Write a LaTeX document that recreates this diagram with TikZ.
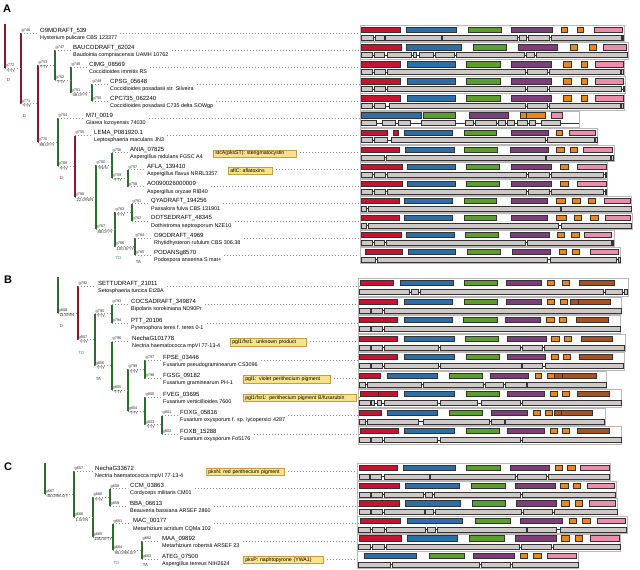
\documentclass[tikz,border=0pt]{standalone}
\usepackage{fontspec}
\setmainfont{Liberation Sans}
\usetikzlibrary{calc}
\definecolor{kred}{RGB}{200,18,48}
\definecolor{kblue}{RGB}{46,110,166}
\definecolor{kgreen}{RGB}{92,158,46}
\definecolor{kpurple}{RGB}{126,62,122}
\definecolor{korange}{RGB}{234,134,28}
\definecolor{kpink}{RGB}{238,140,172}
\definecolor{kbrown}{RGB}{166,82,36}
\definecolor{kgray}{RGB}{206,201,198}
\definecolor{tred}{RGB}{140,24,40}
\definecolor{tgreen}{RGB}{44,108,44}
\definecolor{annfill}{RGB}{250,226,140}
\definecolor{anndraw}{RGB}{196,158,60}
\definecolor{tdblue}{RGB}{60,120,170}
\definecolor{tanavy}{RGB}{30,40,100}
\tikzset{
 gname/.style={font=\fontsize{6}{6.5}\selectfont, inner sep=0pt},
 sname/.style={font=\fontsize{5.4}{5.8}\selectfont, inner sep=0pt},
 nlab/.style={font=\fontsize{3.9}{4.1}\selectfont, inner sep=0.5pt, text=black!80},
 slab/.style={font=\fontsize{4.3}{4.5}\selectfont, inner sep=0.5pt, text=black!80},
 dtag/.style={font=\fontsize{4.2}{4.4}\selectfont, inner sep=0pt},
 dotsl/.style={draw=black!45, line width=0.75pt, dash pattern=on 0.75pt off 2.25pt},
 rbar/.style={draw=tred, line width=1.5pt},
 gbar/.style={draw=tgreen, line width=1.5pt},
 dombox/.style={draw=black!80, line width=0.45pt},
 genbox/.style={draw=black!80, line width=0.45pt, fill=kgray},
 intron/.style={draw=black!80, line width=0.45pt},
 frm/.style={draw=black!28, line width=0.6pt},
 annbox/.style={draw=anndraw, fill=annfill, line width=0.6pt, font=\fontsize{5.2}{5.5}\selectfont, inner xsep=2pt, inner ysep=0pt, minimum height=7.5pt, align=left},
 plabel/.style={font=\bfseries\fontsize{11}{11}\selectfont, inner sep=0pt},
}
\newcommand\leaf[5]{\coordinate (#1) at (#2,#3);
 \node[gname, anchor=base west] (n#1) at ($(#1)+(0,-1)$) {#4};
 \node[sname, anchor=base west] (s#1) at ($(#1)+(0,6.3)$) {#5};}
\newcommand\tbar[4]{\draw[#1] (#2 |- #3) -- (#2 |- #4);}
\newcommand\lbr[3]{\draw[dotsl] (#1 |- #2) -- ($(#2)+(-2,0)$);
 \node[nlab, anchor=south west] at (#1 |- #2) {#3};}
\newcommand\ibr[4]{\draw[dotsl] (#1 |- #2) -- (#2);
 \node[nlab, anchor=south west] at (#1 |- #2) {#3};
 \node[slab, anchor=north west] at ($(#1 |- #2)+(0.8,0)$) {#4};}
\newcommand\dtagat[5]{\node[dtag, text=#4] at ($(#1 |- #2)+(3.5,#3)$) {#5};}
\newcommand\rowdots[1]{\draw[dotsl] ($(s#1.east |- #1)+(3,0)$) -- (#1 -| rowend);}
\newcommand\annot[6]{\node[annbox, anchor=west, text width=#4pt] (#1) at (#2,#3) {#5};
 \draw[dotsl] ($(#1.east |- #6)+(3,0)$) -- (#6 -| rowend);}
\newcommand\pair[8]{%
 \draw[frm] ({355+#3/3},{#1-4.6}) rectangle ({355+#4/3},{#2+4});
 \foreach \cc/\xa/\xb in {#5}{\draw[dombox,fill=\cc] ({355+\xa/3},{#1-2.7}) rectangle ({355+\xb/3},{#1+2.7});}
 \draw[intron] ({355+#6/3},#2) -- ({355+#7/3},#2);
 \foreach \xa/\xb in {#8}{\draw[genbox] ({355+\xa/3},{#2-2.5}) rectangle ({355+\xb/3},{#2+2.5});}
}
\begin{document}
\begin{tikzpicture}[x=1pt,y=-1pt]
\useasboundingbox (0,0) rectangle (640,570);
\fill[white] (0,0) rectangle (640,570);
\coordinate (rowend) at (359,0);
\node[plabel] (labA) at (7,9) {A};
\node[plabel] (labB) at (8,280) {B};
\node[plabel] (labC) at (8,467) {C};

% ================= PANEL A tree
\coordinate (rAt) at (5,24);
\coordinate (rA) at (5,68.37);
\coordinate (g772) at (21,68.37);
\coordinate (g771) at (38,103.73);
\coordinate (g753) at (55,65.04);
\coordinate (g752) at (71,79.98);
\coordinate (g751) at (92,92.75);
\coordinate (g770) at (58,142.43);
\coordinate (g769) at (75,166.45);
\coordinate (g768) at (96,197.4);
\coordinate (g760) at (112,165.38);
\coordinate (g759) at (128,178.15);
\coordinate (g767) at (115,229.43);
\coordinate (g763) at (132,212.35);
\coordinate (g766) at (135,246.5);
\leaf{g746}{40}{33}{O9MDRAFT\_539}{Hysterium pulicare CBS 123377}
\leaf{g747}{73}{50.1}{BAUCODRAFT\_62024}{Baudoinia compniacensis UAMH 10762}
\leaf{g748}{89}{67.2}{CIMG\_08569}{Coccidioides immitis RS}
\leaf{g749}{110}{84.2}{CPSG\_05648}{Coccidioides posadasii str. Silveira}
\leaf{g750}{110}{101.3}{CPC735\_062240}{Coccidioides posadasii C735 delta SOWgp}
\leaf{g754}{86}{118.4}{M7I\_0019}{Glarea lozoyensis 74030}
\leaf{g755}{94}{135.5}{LEMA\_P081920.1}{Leptosphaeria maculans JN3}
\leaf{g756}{130}{152.6}{ANIA\_07825}{Aspergillus nidulans FGSC A4}
\leaf{g757}{147}{169.6}{AFLA\_139410}{Aspergillus flavus NRRL3357}
\leaf{g758}{147}{186.7}{AO090026000009}{Aspergillus oryzae RIB40}
\leaf{g761}{151}{203.8}{QYADRAFT\_194256}{Passalora fulva CBS 131901}
\leaf{g762}{151}{220.9}{DOTSEDRAFT\_48345}{Dothistroma septosporum NZE10}
\leaf{g764}{154}{238}{O9ODRAFT\_4969}{Rhytidhysteron rufulum CBS 306.38}
\leaf{g765}{154}{255}{PODANSg8570}{Podospora anserina S mat+}
\draw[rbar] (rAt) -- (rA);
\tbar{rbar}{g772}{g746}{g771}
\tbar{rbar}{g771}{g753}{g770}
\tbar{gbar}{g753}{g747}{g752}
\tbar{gbar}{g752}{g748}{g751}
\tbar{gbar}{g751}{g749}{g750}
\tbar{gbar}{g770}{g754}{g769}
\tbar{rbar}{g769}{g755}{g768}
\tbar{gbar}{g768}{g760}{g767}
\tbar{gbar}{g760}{g756}{g759}
\tbar{gbar}{g759}{g757}{g758}
\tbar{gbar}{g767}{g763}{g766}
\tbar{gbar}{g763}{g761}{g762}
\tbar{gbar}{g766}{g764}{g765}
\ibr{rA}{g772}{g772}{*/*/Y}
\lbr{g772}{g746}{g746}
\ibr{g772}{g771}{g771}{*/*/Y}
\ibr{g771}{g753}{g753}{*/*/Y}
\ibr{g771}{g770}{g770}{89.0/*/Y}
\lbr{g753}{g747}{g747}
\ibr{g753}{g752}{g752}{*/*/Y}
\lbr{g752}{g748}{g748}
\ibr{g752}{g751}{g751}{58.0/*/Y}
\lbr{g751}{g749}{g749}
\lbr{g751}{g750}{g750}
\lbr{g770}{g754}{g754}
\ibr{g770}{g769}{g769}{*/*/Y}
\lbr{g769}{g755}{g755}
\ibr{g769}{g768}{g768}{22.0/N/N}
\ibr{g768}{g760}{g760}{*/N/N}
\ibr{g768}{g767}{g767}{88.0/*/Y}
\lbr{g760}{g756}{g756}
\ibr{g760}{g759}{g759}{*/*/Y}
\lbr{g759}{g757}{g757}
\lbr{g759}{g758}{g758}
\ibr{g767}{g763}{g763}{*/*/Y}
\ibr{g767}{g766}{g766}{100.0/*/Y}
\lbr{g763}{g761}{g761}
\lbr{g763}{g762}{g762}
\lbr{g766}{g764}{g764}
\lbr{g766}{g765}{g765}
\dtagat{rA}{g772}{11.5}{tred}{D}
\dtagat{g772}{g771}{12.5}{tred}{D}
\dtagat{g770}{g769}{11.5}{tred}{D}
\dtagat{g767}{g766}{11.5}{tdblue}{TD}
\dtagat{g766}{g765}{7}{tanavy}{TA}
\foreach \lf in {g746,g747,g748,g749,g750,g754,g755,g758,g761,g762,g764,g765}{\rowdots{\lf}}
\annot{annstc}{213}{153.6}{79.4}{stcA(pksST): sterigmatocystin}{g756}
\annot{annafl}{228}{170.6}{40.4}{aflC: aflatoxins}{g757}

% ================= PANEL B tree
\coordinate (rBt) at (58,277);
\coordinate (rB) at (58,312.88);
\coordinate (g808) at (78,312.88);
\coordinate (g807) at (95,339.77);
\coordinate (g795) at (112,313.75);
\coordinate (g806) at (112,365.78);
\coordinate (g805) at (128,390.06);
\coordinate (g799) at (145,369.25);
\coordinate (g804) at (145,410.88);
\coordinate (g803) at (162,424.75);
\leaf{g792}{98}{286}{SETTUDRAFT\_21011}{Setosphaeria turcica Et28A}
\leaf{g793}{131}{304.5}{COCSADRAFT\_349874}{Bipolaris sorokiniana ND90Pr}
\leaf{g794}{131}{323}{PTT\_20106}{Pyrenophora teres f. teres 0-1}
\leaf{g796}{132}{341.5}{NechaG101778}{Nectria haematococca mpVI 77-13-4}
\leaf{g797}{163}{360}{FPSE\_03446}{Fusarium pseudograminearum CS3096}
\leaf{g798}{163}{378.5}{FGSG\_09182}{Fusarium graminearum PH-1}
\leaf{g800}{163}{397}{FVEG\_03695}{Fusarium verticillioides 7600}
\leaf{g801}{180}{415.5}{FOXG\_05816}{Fusarium oxysporum f. sp. lycopersici 4287}
\leaf{g802}{180}{434}{FOXB\_15288}{Fusarium oxysporum Fo5176}
\draw[gbar] (rBt) -- (rB);
\tbar{rbar}{g808}{g792}{g807}
\tbar{gbar}{g807}{g795}{g806}
\tbar{gbar}{g795}{g793}{g794}
\tbar{gbar}{g806}{g796}{g805}
\tbar{gbar}{g805}{g799}{g804}
\tbar{gbar}{g799}{g797}{g798}
\tbar{gbar}{g804}{g800}{g803}
\tbar{gbar}{g803}{g801}{g802}
\ibr{rB}{g808}{g808}{11.0/I/N}
\lbr{g808}{g792}{g792}
\ibr{g808}{g807}{g807}{*/*/Y}
\ibr{g807}{g795}{g795}{*/*/Y}
\ibr{g807}{g806}{g806}{*/*/Y}
\lbr{g795}{g793}{g793}
\lbr{g795}{g794}{g794}
\lbr{g806}{g796}{g796}
\ibr{g806}{g805}{g805}{*/*/Y}
\ibr{g805}{g799}{g799}{*/*/Y}
\ibr{g805}{g804}{g804}{*/*/Y}
\lbr{g799}{g797}{g797}
\lbr{g799}{g798}{g798}
\lbr{g804}{g800}{g800}
\ibr{g804}{g803}{g803}{*/*/Y}
\lbr{g803}{g801}{g801}
\lbr{g803}{g802}{g802}
\dtagat{rB}{g808}{13}{tred}{D}
\dtagat{g808}{g807}{13.5}{tdblue}{TD}
\dtagat{g807}{g806}{13}{tanavy}{TA}
\foreach \lf in {g792,g793,g794,g797,g801,g802}{\rowdots{\lf}}
\annot{annpu}{230}{342.5}{72.4}{pgl1/fsr1: unknown product}{g796}
\annot{annpv}{243}{379.5}{83.4}{pgl1: violet perithecium pigment}{g798}
\annot{annpf}{243}{398}{109.4}{pgl1/fsr1: perithecium pigment B/fusarubin}{g800}

% ================= PANEL C tree
\coordinate (rCt) at (45,463);
\coordinate (rC) at (45,494.1);
\coordinate (g667) at (74,494.1);
\coordinate (g666) at (93,517.2);
\coordinate (g660) at (110,497.4);
\coordinate (g665) at (113,537);
\coordinate (g664) at (142,550.2);
\leaf{g657}{95}{471}{NechaG33672}{Nectria haematococca mpVI 77-13-4}
\leaf{g658}{130}{488.6}{CCM\_03863}{Cordyceps militaris CM01}
\leaf{g659}{130}{506.2}{BBA\_06613}{Beauveria bassiana ARSEF 2860}
\leaf{g661}{133}{523.8}{MAC\_00177}{Metarhizium acridum CQMa 102}
\leaf{g662}{162}{541.4}{MAA\_09892}{Metarhizium robertsii ARSEF 23}
\leaf{g663}{162}{559}{ATEG\_07500}{Aspergillus terreus NIH2624}
\draw[gbar] (rCt) -- (rC);
\tbar{gbar}{g667}{g657}{g666}
\tbar{gbar}{g666}{g660}{g665}
\tbar{gbar}{g660}{g658}{g659}
\tbar{gbar}{g665}{g661}{g664}
\tbar{gbar}{g664}{g662}{g663}
\ibr{rC}{g667}{g667}{45.0/98.0/Y}
\lbr{g667}{g657}{g657}
\ibr{g667}{g666}{g666}{1.0/I/N}
\ibr{g666}{g660}{g660}{*/*/Y}
\ibr{g666}{g665}{g665}{100.0/*/Y}
\lbr{g660}{g658}{g658}
\lbr{g660}{g659}{g659}
\lbr{g665}{g661}{g661}
\ibr{g665}{g664}{g664}{95.0/98.0/Y}
\lbr{g664}{g662}{g662}
\lbr{g664}{g663}{g663}
\dtagat{g665}{g664}{12.5}{tdblue}{TD}
\dtagat{g664}{g663}{6.5}{tanavy}{TA}
\foreach \lf in {g658,g659,g661,g662}{\rowdots{\lf}}
\annot{annpn}{206}{472}{74.4}{pksN: red perithecium pigment}{g657}
\annot{annpp}{243}{560}{76.4}{pksP: naphtopyrone (YWA1)}{g663}

% ================= domain / gene structure rows, panel A
\pair{30}{37.7}{17}{808}{kred/20/137,kblue/155/305,kgreen/340/438,kpurple/470/593,korange/620/638,korange/668/686,kpink/717/803}{20}{806}{20/55,60/88,92/258,262/488,494/515,520/582,590/800,803/806}
\pair{47.1}{54.8}{17}{820}{kred/20/140,kblue/155/320,kgreen/355/455,kpurple/490/608,korange/645/668,korange/702/724,kpink/745/815}{20}{818}{20/52,57/88,98/170,175/185,192/235,240/297,303/508,514/538,544/818}
\pair{64.2}{71.9}{17}{808}{kred/20/137,kblue/157/300,kgreen/333/435,kpurple/468/590,korange/625/648,korange/678/698,kpink/720/805}{20}{806}{20/52,58/92,98/510,516/578,583/795,800/806}
\pair{81.2}{88.9}{17}{810}{kred/20/137,kblue/157/300,kgreen/333/435,kpurple/468/590,korange/625/648,korange/678/698,kpink/720/805}{20}{808}{20/52,58/92,98/510,516/578,583/800,804/808}
\pair{98.3}{106}{17}{808}{kred/20/137,kblue/157/300,kgreen/333/435,kpurple/468/590,korange/625/648,korange/678/698,kpink/720/805}{20}{806}{20/52,58/92,103/510,516/578,583/795,800/806}
\pair{115.4}{123.1}{17}{672}{kblue/20/200,kgreen/205/300,kpurple/342/460,korange/495/513,korange/515/570,kpink/590/622}{20}{672}{20/65,82/122,130/165,198/300,330/355,362/425,430/450,458/478,488/518,524/542,558/615}
\pair{132.5}{140.2}{17}{728}{kred/20/98,kred/115/130,kblue/148/293,kgreen/328/425,kpurple/468/580,korange/605/622,kpink/643/722}{20}{727}{20/52,58/98,110/570,577/718,722/727}
\pair{149.6}{157.3}{17}{778}{kred/20/133,kblue/150/297,kgreen/328/428,kpurple/466/580,korange/604/627,korange/646/667,kpink/686/773}{20}{776}{20/88,94/570,575/765,770/776}
\pair{166.6}{174.3}{17}{757}{kred/20/142,kblue/158/302,kgreen/333/433,kpurple/470/590,korange/617/640,kpink/668/753}{20}{755}{20/52,58/92,98/513,520/582,588/745,750/755}
\pair{183.7}{191.4}{17}{757}{kred/20/142,kblue/158/302,kgreen/333/433,kpurple/470/590,korange/617/640,kpink/668/753}{20}{755}{20/52,58/92,98/513,520/582,588/745,750/755}
\pair{200.8}{208.5}{17}{828}{kred/20/132,kblue/148/293,kgreen/327/425,kpurple/468/577,korange/604/632,korange/653/675,korange/700/722,kpink/748/825}{20}{828}{20/35,40/615,620/828}
\pair{217.9}{225.6}{17}{832}{kred/20/133,kblue/148/293,kgreen/327/425,kpurple/468/577,korange/604/633,korange/658/680,korange/707/730,kpink/750/825}{20}{830}{20/35,40/610,618/830}
\pair{235}{242.7}{17}{777}{kred/20/138,kblue/155/297,kgreen/330/430,kpurple/466/583,korange/606/627,korange/648/672,kpink/688/770}{20}{776}{20/52,57/88,95/510,516/768,771/776}
\pair{252}{259.7}{17}{797}{kred/30/143,kblue/160/302,kgreen/337/437,kpurple/473/587,korange/612/635,korange/652/673,kpink/705/790}{20}{795}{20/62,68/578,585/785,790/795}

% ================= panel B rows
\pair{283}{292}{10}{820}{kred/15/115,kblue/135/295,kgreen/328/428,kpurple/453/558,korange/577/598,korange/622/642,kbrown/672/778}{12}{818}{12/163,170/190,197/745,752/803,808/818}
\pair{301.5}{310.5}{10}{800}{kred/12/128,kblue/148/293,kgreen/328/428,kpurple/453/560,korange/577/597,korange/615/637,kbrown/647/670,kbrown/670/765}{12}{800}{12/45,50/82,88/800}
\pair{320}{329}{10}{795}{kred/12/128,kblue/147/293,kgreen/326/426,kpurple/452/557,korange/573/597,korange/612/635,kbrown/663/760}{12}{795}{12/45,50/82,88/795}
\pair{338.5}{347.5}{10}{812}{kred/12/128,kblue/147/297,kgreen/330/430,kpurple/457/575,korange/590/612,korange/628/650,kbrown/678/772}{12}{808}{12/45,50/82,88/250,256/495,502/563,568/808}
\pair{357}{366}{10}{808}{kred/12/128,kblue/147/298,kgreen/333/433,kpurple/457/570,korange/588/610,korange/625/647,kbrown/673/772}{12}{805}{12/45,50/82,88/250,256/498,503/563,570/805}
\pair{375.5}{384.5}{10}{755}{kred/12/77,kblue/97/247,kgreen/283/383,kpurple/405/520,korange/540/560,korange/577/597,kbrown/598/622,kbrown/622/725}{12}{755}{12/30,37/200,205/385,392/445,452/513,518/755}
\pair{394}{403}{10}{800}{kred/15/70,kred/70/128,kblue/147/297,kgreen/333/433,kpurple/457/567,korange/585/607,korange/622/642,kbrown/667/763}{12}{800}{12/45,50/58,68/80,88/248,256/368,380/497,503/800}
\pair{412.5}{421.5}{10}{750}{kred/12/80,kblue/97/247,kgreen/283/383,kpurple/410/518,korange/535/555,korange/572/592,kbrown/598/620,kbrown/620/712}{12}{748}{12/30,37/190,205/402,408/447,452/748}
\pair{431}{440}{10}{800}{kred/15/130,kblue/148/298,kgreen/333/433,kpurple/457/567,korange/585/607,korange/622/642,kbrown/667/763}{12}{800}{12/45,50/82,88/248,256/497,503/800}

% ================= panel C rows
\pair{468}{476.7}{8}{765}{kred/12/127,kblue/145/300,kgreen/333/437,kpurple/465/583,korange/600/622,korange/637/660,kpink/677/762}{12}{762}{12/42,47/80,88/222,227/480,487/573,580/762}
\pair{485.6}{494.3}{8}{783}{kred/12/132,kblue/150/312,kgreen/348/452,kpurple/480/602,korange/617/640,korange/655/677,kpink/697/777}{12}{782}{12/45,50/82,88/205,210/233,238/497,503/782}
\pair{503.2}{511.9}{8}{788}{kred/12/133,kblue/150/315,kgreen/352/452,kpurple/483/605,korange/620/642,korange/660/683,kpink/702/782}{12}{787}{12/45,50/82,88/207,212/235,240/500,505/592,598/787}
\pair{520.8}{529.5}{8}{818}{kred/15/137,kblue/157/323,kgreen/360/465,kpurple/497/623,korange/643/665,korange/683/707,kpink/728/812}{10}{815}{10/45,52/88,93/210,217/242,248/513,518/605,617/815}
\pair{538.4}{547.1}{8}{795}{kred/12/140,kblue/157/308,kgreen/343/448,kpurple/480/603,korange/620/642,korange/660/683,kpink/705/792}{10}{795}{10/45,52/88,93/493,500/588,595/795}
\pair{556}{564.7}{8}{670}{kblue/28/185,kgreen/222/327,kpurple/355/478,korange/495/517,korange/535/558,kpink/578/665}{10}{670}{10/105,112/373,380/465,472/670}
\end{tikzpicture}
\end{document}
